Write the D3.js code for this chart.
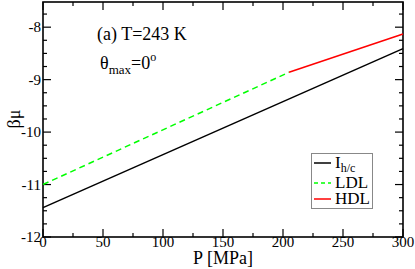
<!DOCTYPE html>
<html><head><meta charset="utf-8">
<script src="https://cdn.jsdelivr.net/npm/d3@7"></script>
</head><body style="margin:0;background:#fff"><svg id="c" width="415" height="269"></svg>
<script>
const iceP = [0, 300];
const iceMu = [-11.44, -8.41];
const ldlP = [0, 205];
const ldlMu = [-11.0, -8.86];
const hdlP = [205, 300];
const hdlMu = [-8.86, -8.13];
const xTicks = [0, 50, 100, 150, 200, 250, 300];
const yTicks = [-12, -11, -10, -9, -8];
const legendNames = ["I", "LDL", "HDL"];
const colors = ["#000000", "#00ff00", "#ff0000"];

const svg = d3.select("#c");
const L = 43, R = 403, T = 2, B = 237;
const x = d3.scaleLinear().domain([0, 300]).range([L, R]);
const y = d3.scaleLinear().domain([-12, -7.52]).range([B, T]);
const FF = '"Liberation Serif"';

const g = svg.append("g");
const txt = (sel) => sel.append("text").style("font-family", FF);
const xMinor = d3.range(0, 301, 25), yMinor = d3.range(-12, -7.5, 0.25);
const tick = (x1, y1, x2, y2) => g.append("line").attr("x1", x1).attr("y1", y1).attr("x2", x2).attr("y2", y2).attr("stroke", "#000").attr("stroke-width", 1.2);
xMinor.forEach(v => { const major = v % 50 === 0; const len = major ? 8 : 4;
  tick(x(v), B, x(v), B - len); tick(x(v), T, x(v), T + len); });
yMinor.forEach(v => { const major = Math.abs(v - Math.round(v)) < 1e-6; const len = major ? 8 : 4;
  tick(L, y(v), L + len, y(v)); tick(R, y(v), R - len, y(v)); });
g.append("rect").attr("x", L).attr("y", T).attr("width", R - L).attr("height", B - T)
  .attr("fill", "none").attr("stroke", "#000").attr("stroke-width", 1.6);

xTicks.forEach(v => txt(g).attr("x", x(v)).attr("y", 247).attr("text-anchor", "middle").attr("font-size", 15).text(v));
yTicks.forEach(v => txt(g).attr("x", L - 2).attr("y", y(v) + 5).attr("text-anchor", "end").attr("font-size", 15).text(v));

txt(g).attr("x", 223).attr("y", 264).attr("text-anchor", "middle").attr("font-size", 18).text("P [MPa]");
txt(g).attr("transform", "translate(20,119) rotate(-90)").attr("text-anchor", "middle").attr("font-size", 18).text("βμ");

const line = d3.line().x(d => x(d[0])).y(d => y(d[1]));
g.append("path").datum(d3.zip(iceP, iceMu)).attr("d", line).attr("fill", "none").attr("stroke", colors[0]).attr("stroke-width", 1.5);
g.append("path").datum(d3.zip(ldlP, ldlMu)).attr("d", line).attr("fill", "none").attr("stroke", colors[1]).attr("stroke-width", 1.5).attr("stroke-dasharray", "6,4");
g.append("path").datum(d3.zip(hdlP, hdlMu)).attr("d", line).attr("fill", "none").attr("stroke", colors[2]).attr("stroke-width", 1.5);

txt(g).attr("x", 97).attr("y", 40).attr("font-size", 18).text("(a) T=243 K");
const t2 = txt(g).attr("x", 100).attr("y", 69).attr("font-size", 18);
t2.append("tspan").text("θ");
t2.append("tspan").attr("dy", 5).attr("font-size", 13).text("max");
t2.append("tspan").attr("dy", -5).text("=0");
t2.append("tspan").attr("dy", -8).attr("font-size", 12).text("o");

const lg = g.append("g");
lg.append("rect").attr("x", 311.5).attr("y", 153.5).attr("width", 61).attr("height", 55).attr("fill", "#fff").attr("stroke", "#888").attr("stroke-width", 1);
const ly = [163, 183, 199];
legendNames.forEach((n, i) => {
  lg.append("line").attr("x1", 314).attr("x2", 331).attr("y1", ly[i]).attr("y2", ly[i]).attr("stroke", colors[i]).attr("stroke-width", 1.5)
    .attr("stroke-dasharray", i === 1 ? "4,3" : null);
  const t = txt(lg).attr("x", 335).attr("y", ly[i] + 5).attr("font-size", 17).text(n);
  if (i === 0) t.append("tspan").attr("dy", 4).attr("font-size", 12).text("h/c");
});
</script></body></html>
